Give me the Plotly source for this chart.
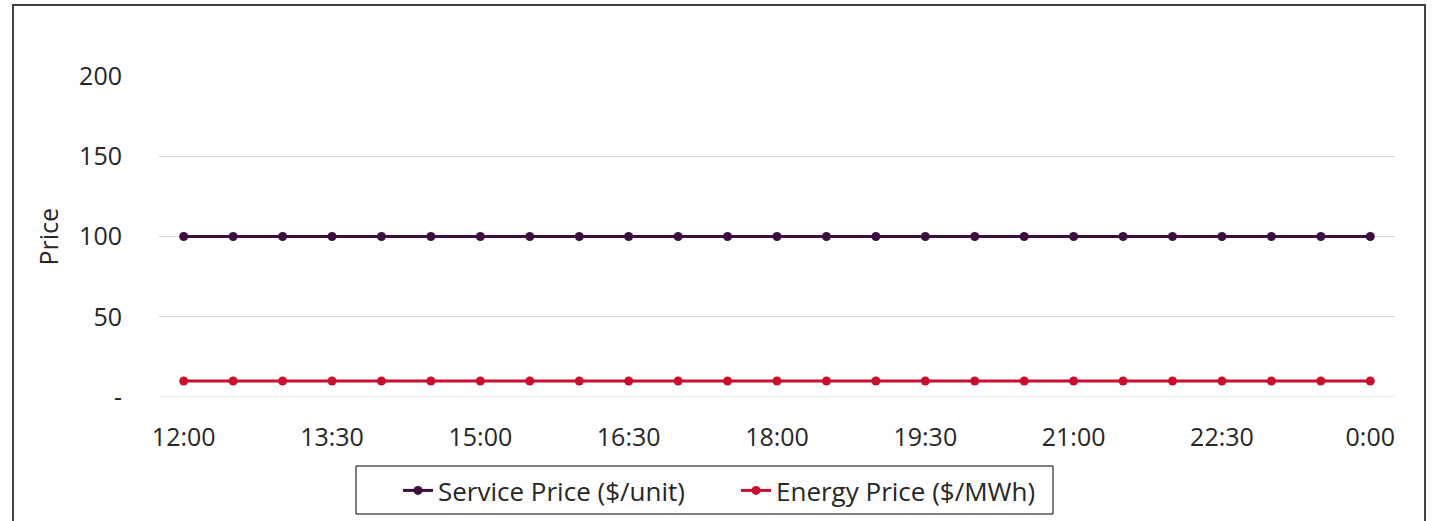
import plotly.graph_objects as go

# Half-hourly intervals from noon to midnight
times = ["12:00", "12:30", "13:00", "13:30", "14:00", "14:30", "15:00", "15:30",
         "16:00", "16:30", "17:00", "17:30", "18:00", "18:30", "19:00", "19:30",
         "20:00", "20:30", "21:00", "21:30", "22:00", "22:30", "23:00", "23:30", "0:00"]
service_price = [100, 100, 100, 100, 100, 100, 100, 100, 100, 100, 100, 100, 100,
                 100, 100, 100, 100, 100, 100, 100, 100, 100, 100, 100, 100]
energy_price = [10, 10, 10, 10, 10, 10, 10, 10, 10, 10, 10, 10, 10,
                10, 10, 10, 10, 10, 10, 10, 10, 10, 10, 10, 10]

x_ticks = ["12:00", "13:30", "15:00", "16:30", "18:00", "19:30", "21:00", "22:30", "0:00"]
y_ticks = [0, 50, 100, 150, 200]
y_tick_text = ["-", "50", "100", "150", "200"]

FONT = "Open Sans, Noto Sans, sans-serif"
TEXT = "#262626"

fig = go.Figure()
fig.add_trace(go.Scatter(
    x=times, y=service_price, name="Service Price ($/unit)", mode="lines+markers",
    line=dict(color="#3a0f3e", width=3), marker=dict(size=9, color="#3a0f3e"),
))
fig.add_trace(go.Scatter(
    x=times, y=energy_price, name="Energy Price ($/MWh)", mode="lines+markers",
    line=dict(color="#c8102e", width=3), marker=dict(size=9, color="#c8102e"),
))

fig.update_layout(
    width=1432, height=521,
    margin=dict(l=159, r=37, t=76, b=124, autoexpand=False),
    paper_bgcolor="white", plot_bgcolor="white",
    font=dict(family=FONT, size=25, color=TEXT),
    showlegend=True,
    legend=dict(
        orientation="h",
        xref="container", x=398 / 1432, xanchor="left",
        yref="container", y=(521 - 467) / 521, yanchor="top",
        borderwidth=0, bgcolor="rgba(0,0,0,0)",
        font=dict(family=FONT, size=26, color=TEXT),
        itemwidth=30, entrywidth=293, entrywidthmode="pixels", tracegroupgap=0,
    ),
    xaxis=dict(
        type="category", range=[-0.5, 24.5],
        tickvals=x_ticks, ticktext=x_ticks,
        showgrid=False, showline=False, zeroline=False,
        ticks="outside", ticklen=18, tickcolor="rgba(0,0,0,0)",
    ),
    yaxis=dict(
        range=[0, 200], tickvals=y_ticks, ticktext=y_tick_text,
        showgrid=True, gridcolor="#d9d9d9", gridwidth=1,
        zeroline=False, showline=False,
        ticks="outside", ticklen=31, tickcolor="rgba(0,0,0,0)",
    ),
    annotations=[dict(
        text="Price", textangle=-90, xref="paper", yref="paper",
        x=-0.0906, y=0.5, xanchor="center", yanchor="middle", showarrow=False,
        font=dict(family=FONT, size=25, color=TEXT),
    )],
    shapes=[
        # y = 0 gridline
        dict(type="line", xref="paper", yref="y", x0=0, x1=1, y0=0, y1=0,
             line=dict(color="#d9d9d9", width=1), layer="below"),
        # chart-area frame
        dict(type="rect", xref="paper", yref="paper",
             x0=-0.1181, x1=1.0243, y0=-0.45, y1=1.2215,
             line=dict(color="#404040", width=2), layer="below"),
        # legend frame
        dict(type="rect", xref="paper", yref="paper",
             x0=(356 - 159) / 1236, x1=(1053 - 159) / 1236,
             y0=(397 - 514) / 321, y1=(397 - 466) / 321,
             line=dict(color="#000000", width=1), fillcolor="white", layer="below"),
    ],
)

fig.write_html("out.html")
